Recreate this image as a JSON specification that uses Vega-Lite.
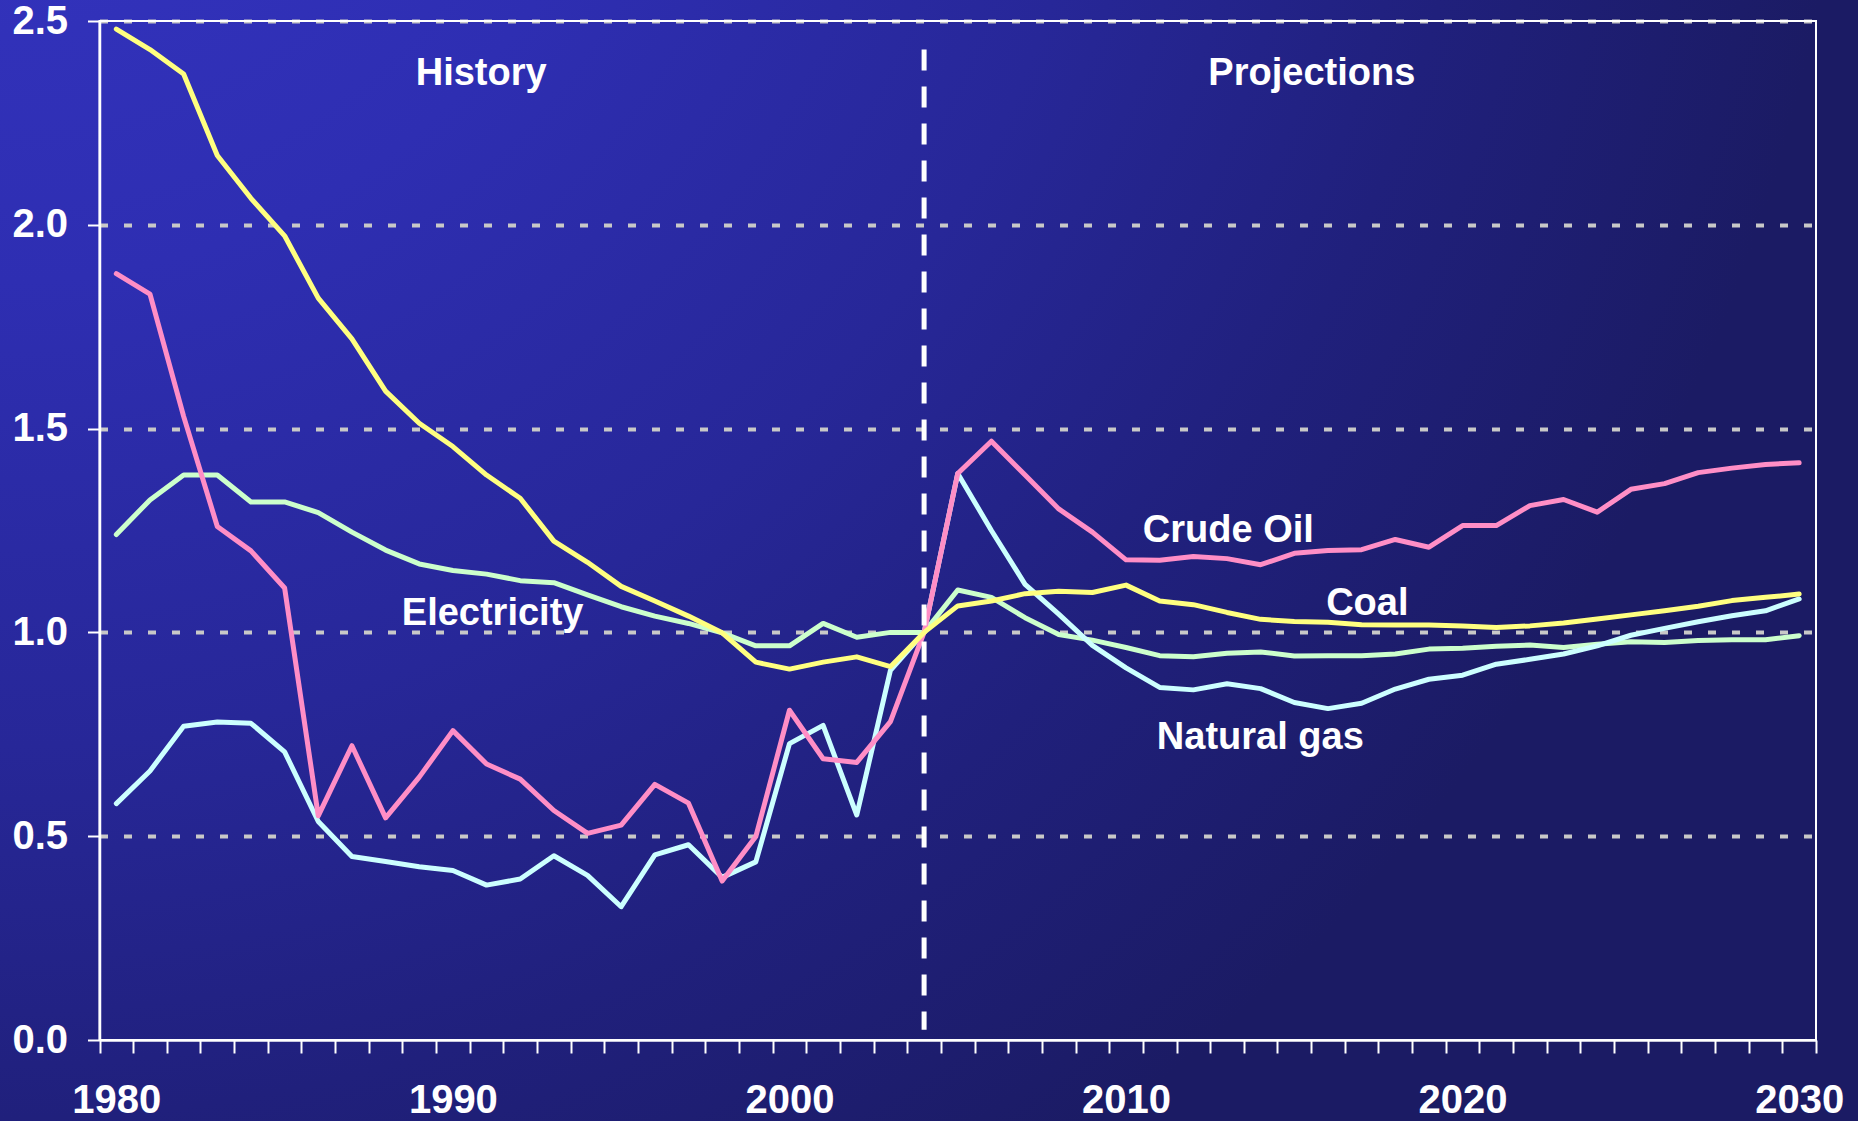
{
  "$schema": "https://vega.github.io/schema/vega-lite/v6.json",
  "width": 1858,
  "height": 1121,
  "autosize": {"type": "none"},
  "padding": 0,
  "background": "#1c1c66",
  "view": {
    "stroke": null,
    "fill": {
      "gradient": "radial",
      "x1": 0, "y1": 0, "r1": 0,
      "x2": 0, "y2": 0, "r2": 1,
      "stops": [
        {"offset": 0, "color": "#3636c4"},
        {"offset": 0.35, "color": "#2e2eb2"},
        {"offset": 0.6, "color": "#272798"},
        {"offset": 0.8, "color": "#20207c"},
        {"offset": 1, "color": "#1b1b64"}
      ]
    }
  },
  "config": {"font": "Liberation Sans"},
  "datasets": {
    "prices": [
      {"year": 1980, "Coal": 2.48, "Crude Oil": 1.88, "Natural gas": 0.58, "Electricity": 1.24},
      {"year": 1981, "Coal": 2.43, "Crude Oil": 1.83, "Natural gas": 0.66, "Electricity": 1.325},
      {"year": 1982, "Coal": 2.37, "Crude Oil": 1.53, "Natural gas": 0.77, "Electricity": 1.386},
      {"year": 1983, "Coal": 2.17, "Crude Oil": 1.26, "Natural gas": 0.78, "Electricity": 1.386},
      {"year": 1984, "Coal": 2.065, "Crude Oil": 1.2, "Natural gas": 0.777, "Electricity": 1.32},
      {"year": 1985, "Coal": 1.973, "Crude Oil": 1.109, "Natural gas": 0.707, "Electricity": 1.32},
      {"year": 1986, "Coal": 1.82, "Crude Oil": 0.55, "Natural gas": 0.536, "Electricity": 1.294},
      {"year": 1987, "Coal": 1.72, "Crude Oil": 0.722, "Natural gas": 0.45, "Electricity": 1.246},
      {"year": 1988, "Coal": 1.592, "Crude Oil": 0.545, "Natural gas": 0.438, "Electricity": 1.202},
      {"year": 1989, "Coal": 1.513, "Crude Oil": 0.645, "Natural gas": 0.425, "Electricity": 1.168},
      {"year": 1990, "Coal": 1.456, "Crude Oil": 0.759, "Natural gas": 0.416, "Electricity": 1.152},
      {"year": 1991, "Coal": 1.386, "Crude Oil": 0.677, "Natural gas": 0.38, "Electricity": 1.143},
      {"year": 1992, "Coal": 1.329, "Crude Oil": 0.64, "Natural gas": 0.395, "Electricity": 1.127},
      {"year": 1993, "Coal": 1.224, "Crude Oil": 0.563, "Natural gas": 0.452, "Electricity": 1.122},
      {"year": 1994, "Coal": 1.172, "Crude Oil": 0.507, "Natural gas": 0.404, "Electricity": 1.092},
      {"year": 1995, "Coal": 1.113, "Crude Oil": 0.527, "Natural gas": 0.327, "Electricity": 1.063},
      {"year": 1996, "Coal": 1.077, "Crude Oil": 0.627, "Natural gas": 0.454, "Electricity": 1.04},
      {"year": 1997, "Coal": 1.04, "Crude Oil": 0.581, "Natural gas": 0.479, "Electricity": 1.022},
      {"year": 1998, "Coal": 0.999, "Crude Oil": 0.39, "Natural gas": 0.399, "Electricity": 0.999},
      {"year": 1999, "Coal": 0.927, "Crude Oil": 0.499, "Natural gas": 0.437, "Electricity": 0.967},
      {"year": 2000, "Coal": 0.91, "Crude Oil": 0.809, "Natural gas": 0.727, "Electricity": 0.967},
      {"year": 2001, "Coal": 0.927, "Crude Oil": 0.69, "Natural gas": 0.772, "Electricity": 1.022},
      {"year": 2002, "Coal": 0.94, "Crude Oil": 0.681, "Natural gas": 0.552, "Electricity": 0.988},
      {"year": 2003, "Coal": 0.916, "Crude Oil": 0.781, "Natural gas": 0.907, "Electricity": 1.0},
      {"year": 2004, "Coal": 1.0, "Crude Oil": 1.0, "Natural gas": 1.0, "Electricity": 1.0},
      {"year": 2005, "Coal": 1.065, "Crude Oil": 1.39, "Natural gas": 1.39, "Electricity": 1.104},
      {"year": 2006, "Coal": 1.077, "Crude Oil": 1.469, "Natural gas": 1.25, "Electricity": 1.086},
      {"year": 2007, "Coal": 1.095, "Crude Oil": 1.386, "Natural gas": 1.118, "Electricity": 1.036},
      {"year": 2008, "Coal": 1.101, "Crude Oil": 1.303, "Natural gas": 1.045, "Electricity": 0.995},
      {"year": 2009, "Coal": 1.098, "Crude Oil": 1.246, "Natural gas": 0.968, "Electricity": 0.981},
      {"year": 2010, "Coal": 1.116, "Crude Oil": 1.178, "Natural gas": 0.913, "Electricity": 0.963},
      {"year": 2011, "Coal": 1.077, "Crude Oil": 1.177, "Natural gas": 0.865, "Electricity": 0.943},
      {"year": 2012, "Coal": 1.068, "Crude Oil": 1.186, "Natural gas": 0.859, "Electricity": 0.94},
      {"year": 2013, "Coal": 1.049, "Crude Oil": 1.181, "Natural gas": 0.874, "Electricity": 0.949},
      {"year": 2014, "Coal": 1.032, "Crude Oil": 1.166, "Natural gas": 0.862, "Electricity": 0.952},
      {"year": 2015, "Coal": 1.027, "Crude Oil": 1.194, "Natural gas": 0.828, "Electricity": 0.942},
      {"year": 2016, "Coal": 1.025, "Crude Oil": 1.201, "Natural gas": 0.813, "Electricity": 0.943},
      {"year": 2017, "Coal": 1.019, "Crude Oil": 1.203, "Natural gas": 0.826, "Electricity": 0.943},
      {"year": 2018, "Coal": 1.018, "Crude Oil": 1.228, "Natural gas": 0.861, "Electricity": 0.947},
      {"year": 2019, "Coal": 1.018, "Crude Oil": 1.209, "Natural gas": 0.885, "Electricity": 0.959},
      {"year": 2020, "Coal": 1.016, "Crude Oil": 1.262, "Natural gas": 0.895, "Electricity": 0.961},
      {"year": 2021, "Coal": 1.012, "Crude Oil": 1.262, "Natural gas": 0.922, "Electricity": 0.966},
      {"year": 2022, "Coal": 1.016, "Crude Oil": 1.311, "Natural gas": 0.934, "Electricity": 0.969},
      {"year": 2023, "Coal": 1.023, "Crude Oil": 1.326, "Natural gas": 0.947, "Electricity": 0.963},
      {"year": 2024, "Coal": 1.033, "Crude Oil": 1.295, "Natural gas": 0.967, "Electricity": 0.971},
      {"year": 2025, "Coal": 1.043, "Crude Oil": 1.351, "Natural gas": 0.993, "Electricity": 0.977},
      {"year": 2026, "Coal": 1.053, "Crude Oil": 1.365, "Natural gas": 1.01, "Electricity": 0.975},
      {"year": 2027, "Coal": 1.064, "Crude Oil": 1.392, "Natural gas": 1.026, "Electricity": 0.98},
      {"year": 2028, "Coal": 1.078, "Crude Oil": 1.403, "Natural gas": 1.041, "Electricity": 0.982},
      {"year": 2029, "Coal": 1.086, "Crude Oil": 1.412, "Natural gas": 1.053, "Electricity": 0.982},
      {"year": 2030, "Coal": 1.094, "Crude Oil": 1.416, "Natural gas": 1.082, "Electricity": 0.992}
    ],
    "labels": [
      {"label": "History", "year": 1990.84, "value": 2.37},
      {"label": "Projections", "year": 2015.52, "value": 2.37},
      {"label": "Crude Oil", "year": 2013.04, "value": 1.249},
      {"label": "Coal", "year": 2017.17, "value": 1.069},
      {"label": "Electricity", "year": 1991.18, "value": 1.045},
      {"label": "Natural gas", "year": 2013.99, "value": 0.741}
    ],
    "frame": [{"year": 1979.5, "yearEnd": 2030.5, "value": 0, "valueEnd": 2.5}],
    "divider": [{"year": 2004, "value": 2.43, "valueEnd": 0.025}]
  },
  "encoding": {
    "x": {
      "field": "year", "type": "quantitative",
      "scale": {"domain": [1979.5, 2030.5], "range": [99.5, 1816], "nice": false, "zero": false},
      "axis": {
        "title": null,
        "offset": -81,
        "values": [1979.5,1980.5,1981.5,1982.5,1983.5,1984.5,1985.5,1986.5,1987.5,1988.5,1989.5,1990.5,1991.5,1992.5,1993.5,1994.5,1995.5,1996.5,1997.5,1998.5,1999.5,2000.5,2001.5,2002.5,2003.5,2004.5,2005.5,2006.5,2007.5,2008.5,2009.5,2010.5,2011.5,2012.5,2013.5,2014.5,2015.5,2016.5,2017.5,2018.5,2019.5,2020.5,2021.5,2022.5,2023.5,2024.5,2025.5,2026.5,2027.5,2028.5,2029.5,2030.5],
        "labelExpr": "(datum.value - 1979.5) % 10 === 0 && datum.value < 2030 ? format(datum.value + 0.5, 'd') : ''",
        "labelOffset": 16.8,
        "grid": false,
        "domainColor": "#ffffff", "domainWidth": 2.5,
        "tickColor": "#ffffff", "tickWidth": 2, "tickSize": 13,
        "labelPadding": 27, "labelColor": "#ffffff", "labelFontSize": 40, "labelFontWeight": "bold",
        "labelFont": "Liberation Sans",
        "labelFlush": false, "labelOverlap": false, "labelBound": false
      }
    },
    "y": {
      "field": "value", "type": "quantitative",
      "scale": {"domain": [0, 2.5], "range": [1040, 21], "nice": false, "zero": false},
      "axis": {
        "title": null,
        "offset": -99.5,
        "values": [0, 0.5, 1, 1.5, 2, 2.5],
        "format": ".1f",
        "domainColor": "#ffffff", "domainWidth": 2.5,
        "tickColor": "#ffffff", "tickWidth": 2, "tickSize": 12,
        "labelPadding": 20, "labelColor": "#ffffff", "labelFontSize": 40, "labelFontWeight": "bold",
        "labelFont": "Liberation Sans",
        "labelFlush": false, "labelOverlap": false, "labelBound": false,
        "grid": true, "gridColor": "#c8c8c8", "gridDash": [8, 16], "gridWidth": 4,
        "gridOpacity": {"condition": {"test": "datum.value === 0", "value": 0}, "value": 1}
      }
    }
  },
  "layer": [
    {
      "data": {"name": "frame"},
      "mark": {"type": "rect", "fillOpacity": 0, "stroke": "#ffffff", "strokeWidth": 2},
      "encoding": {
        "x2": {"field": "yearEnd"},
        "y2": {"field": "valueEnd"}
      }
    },
    {
      "data": {"name": "prices"},
      "transform": [{"fold": ["Electricity", "Natural gas", "Crude Oil", "Coal"], "as": ["series", "value"]}],
      "mark": {"type": "line", "strokeWidth": 5, "strokeCap": "round", "strokeJoin": "round"},
      "encoding": {
        "color": {
          "field": "series", "type": "nominal",
          "scale": {"domain": ["Coal", "Crude Oil", "Natural gas", "Electricity"], "range": ["#ffff80", "#ff8ec6", "#ccffff", "#ccffcc"]},
          "legend": null
        }
      }
    },
    {
      "data": {"name": "divider"},
      "mark": {"type": "rule", "color": "#ffffff", "strokeWidth": 5, "strokeDash": [21, 16]},
      "encoding": {
        "y2": {"field": "valueEnd"}
      }
    },
    {
      "data": {"name": "labels"},
      "mark": {"type": "text", "color": "#ffffff", "fontSize": 38, "fontWeight": "bold", "align": "center", "baseline": "middle", "font": "Liberation Sans"},
      "encoding": {
        "text": {"field": "label"}
      }
    }
  ]
}
